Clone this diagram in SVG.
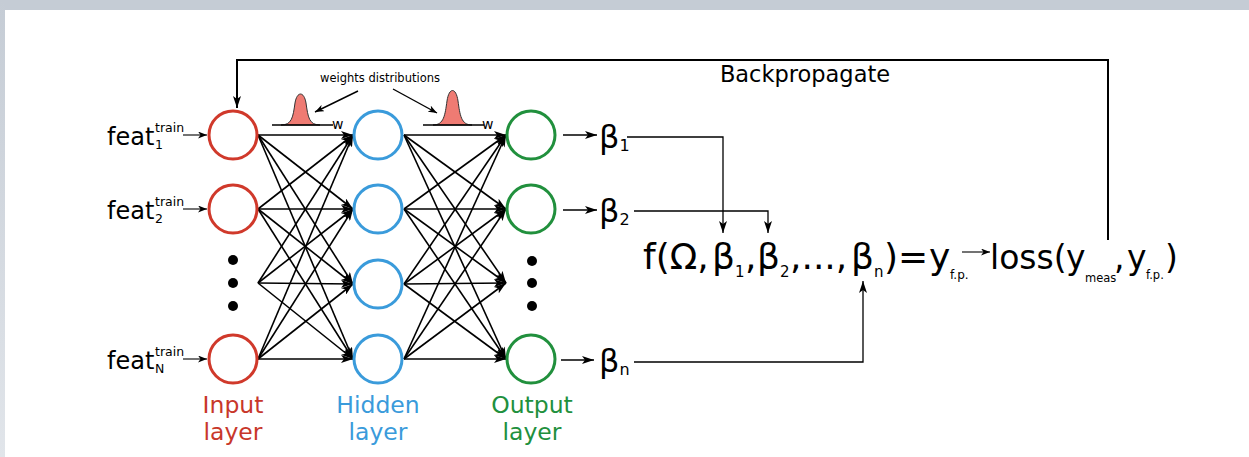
<svg xmlns="http://www.w3.org/2000/svg" width="1249" height="457" viewBox="0 0 1249 457">
<defs>
<linearGradient id="side" x1="0" y1="0" x2="0" y2="1"><stop offset="0" stop-color="#c5ccd5"/><stop offset="1" stop-color="#e1e5ea"/></linearGradient>
<marker id="ah" markerUnits="userSpaceOnUse" markerWidth="13" markerHeight="8" refX="12" refY="4" orient="auto"><path d="M0,0 L12,4 L0,8 L3,4 z" fill="#000"/></marker>
<marker id="ahs" markerUnits="userSpaceOnUse" markerWidth="10" markerHeight="7" refX="9" refY="3.5" orient="auto"><path d="M0,0 L9,3.5 L0,7 L2.5,3.5 z" fill="#000"/></marker>
</defs>
<style>
.t{font-family:"DejaVu Sans",Verdana,sans-serif;fill:#000}
.c{fill:none;stroke-width:3}
.in{stroke:#d0392b}
.hd{stroke:#3a9bdb}
.ou{stroke:#21903d}
.ln{stroke:#000;stroke-width:1.6;fill:none;marker-end:url(#ah)}
.th{stroke:#000;stroke-width:1.1;fill:none;marker-end:url(#ahs)}
.bk{stroke:#000;stroke-width:2;fill:none}
.dot{fill:#000}
.bell{fill:#ef7b73;stroke:#333;stroke-width:1}
</style>
<rect width="1249" height="457" fill="#fff"/>
<rect x="0" y="0" width="1249" height="10" fill="#c5ccd5"/>
<rect x="0" y="0" width="5" height="457" fill="url(#side)"/>

<g id="connectors">
<path class="bk" d="M1108,240 V60 H237 V108" marker-end="url(#ah)"/>
<line class="th" x1="183" y1="135" x2="207" y2="135"/>
<line class="th" x1="183" y1="209" x2="207" y2="209"/>
<line class="th" x1="183" y1="359" x2="207" y2="359"/>
<!-- input to hidden -->
<line class="ln" x1="258" y1="135" x2="353" y2="135"/>
<line class="ln" x1="258" y1="135" x2="353" y2="209"/>
<line class="ln" x1="258" y1="135" x2="353" y2="284"/>
<line class="ln" x1="258" y1="135" x2="353" y2="359"/>
<line class="ln" x1="258" y1="209" x2="353" y2="135"/>
<line class="ln" x1="258" y1="209" x2="353" y2="209"/>
<line class="ln" x1="258" y1="209" x2="353" y2="284"/>
<line class="ln" x1="258" y1="209" x2="353" y2="359"/>
<line class="ln" x1="258" y1="283" x2="353" y2="135"/>
<line class="ln" x1="258" y1="283" x2="353" y2="209"/>
<line class="ln" x1="258" y1="283" x2="353" y2="284"/>
<line class="ln" x1="258" y1="283" x2="353" y2="359"/>
<line class="ln" x1="258" y1="359" x2="353" y2="135"/>
<line class="ln" x1="258" y1="359" x2="353" y2="209"/>
<line class="ln" x1="258" y1="359" x2="353" y2="284"/>
<line class="ln" x1="258" y1="359" x2="353" y2="359"/>
<!-- hidden to output -->
<line class="ln" x1="404" y1="135" x2="506" y2="135"/>
<line class="ln" x1="404" y1="135" x2="506" y2="209"/>
<line class="ln" x1="404" y1="135" x2="506" y2="283"/>
<line class="ln" x1="404" y1="135" x2="506" y2="359"/>
<line class="ln" x1="404" y1="209" x2="506" y2="135"/>
<line class="ln" x1="404" y1="209" x2="506" y2="209"/>
<line class="ln" x1="404" y1="209" x2="506" y2="283"/>
<line class="ln" x1="404" y1="209" x2="506" y2="359"/>
<line class="ln" x1="404" y1="284" x2="506" y2="135"/>
<line class="ln" x1="404" y1="284" x2="506" y2="209"/>
<line class="ln" x1="404" y1="284" x2="506" y2="283"/>
<line class="ln" x1="404" y1="284" x2="506" y2="359"/>
<line class="ln" x1="404" y1="359" x2="506" y2="135"/>
<line class="ln" x1="404" y1="359" x2="506" y2="209"/>
<line class="ln" x1="404" y1="359" x2="506" y2="283"/>
<line class="ln" x1="404" y1="359" x2="506" y2="359"/>
<!-- outputs to beta -->
<line class="ln" x1="563" y1="135" x2="597" y2="135" style="stroke-width:1.3"/>
<line class="ln" x1="563" y1="210" x2="597" y2="210" style="stroke-width:1.3"/>
<line class="ln" x1="561" y1="360" x2="594" y2="360" style="stroke-width:1.3"/>
<!-- beta to equation -->
<path class="ln" d="M627,137 H723 V233" style="stroke-width:1.3"/>
<path class="ln" d="M634,211 H768 V233" style="stroke-width:1.3"/>
<path class="ln" d="M634,362 H863 V281" style="stroke-width:1.3"/>
<line class="th" x1="962" y1="252" x2="990" y2="252"/>
<!-- weights distribution pointers -->
<line class="th" x1="358" y1="91" x2="315" y2="112" style="stroke-width:1.4"/>
<line class="th" x1="393" y1="89" x2="437" y2="113" style="stroke-width:1.4"/>
</g>

<g id="input-layer">
<circle class="c in" cx="233" cy="135" r="24"/>
<circle class="c in" cx="233" cy="209" r="24"/>
<circle class="dot" cx="233" cy="260" r="5"/>
<circle class="dot" cx="233" cy="283" r="5"/>
<circle class="dot" cx="233" cy="306" r="5"/>
<circle class="c in" cx="233" cy="359" r="24"/>
<text class="t" x="233" y="413" font-size="23.5" text-anchor="middle" style="fill:#c8372a">Input</text>
<text class="t" x="233" y="440" font-size="23.5" text-anchor="middle" style="fill:#c8372a">layer</text>
</g>

<g id="hidden-layer">
<circle class="c hd" cx="378" cy="135" r="24"/>
<circle class="c hd" cx="378" cy="209" r="24"/>
<circle class="c hd" cx="378" cy="284" r="24"/>
<circle class="c hd" cx="378" cy="359" r="24"/>
<text class="t" x="378" y="413" font-size="23.5" text-anchor="middle" style="fill:#3a9bdb">Hidden</text>
<text class="t" x="378" y="440" font-size="23.5" text-anchor="middle" style="fill:#3a9bdb">layer</text>
</g>

<g id="output-layer">
<circle class="c ou" cx="531" cy="135" r="24"/>
<circle class="c ou" cx="531" cy="209" r="24"/>
<circle class="dot" cx="532" cy="261" r="5"/>
<circle class="dot" cx="532" cy="283" r="5"/>
<circle class="dot" cx="532" cy="306" r="5"/>
<circle class="c ou" cx="531" cy="359" r="24"/>
<text class="t" x="532" y="413" font-size="23.5" text-anchor="middle" style="fill:#21903d">Output</text>
<text class="t" x="532" y="440" font-size="23.5" text-anchor="middle" style="fill:#21903d">layer</text>
</g>

<g id="features">
<text class="t" x="107" y="145" font-size="24">feat</text>
<text class="t" x="155" y="132" font-size="12.5">train</text>
<text class="t" x="155" y="149" font-size="12.5">1</text>
<text class="t" x="107" y="219" font-size="24">feat</text>
<text class="t" x="155" y="206" font-size="12.5">train</text>
<text class="t" x="155" y="223" font-size="12.5">2</text>
<text class="t" x="107" y="369" font-size="24">feat</text>
<text class="t" x="155" y="356" font-size="12.5">train</text>
<text class="t" x="155" y="373" font-size="12.5">N</text>
</g>

<g id="weights">
<text class="t" x="380" y="82" font-size="11.5" text-anchor="middle">weights distributions</text>
<path class="bell" d="M281,125 C292,125 293,117 295,103 C297,91 304,91 306,103 C308,117 309,125 320,125 Z"/>
<line x1="272" y1="125" x2="333" y2="125" stroke="#000" stroke-width="1.5"/>
<text class="t" x="332" y="129" font-size="14">w</text>
<path class="bell" d="M433,125 C444,125 445,115 447,101 C449,87 456,87 458,101 C460,115 461,125 472,125 Z"/>
<line x1="423" y1="125" x2="484" y2="125" stroke="#000" stroke-width="1.5"/>
<text class="t" x="482" y="129" font-size="14">w</text>
</g>

<g id="betas">
<text class="t" x="599" y="148" font-size="32">β<tspan font-size="16" dy="3">1</tspan></text>
<text class="t" x="599" y="222" font-size="32">β<tspan font-size="16" dy="3">2</tspan></text>
<text class="t" x="599" y="372" font-size="32">β<tspan font-size="16" dy="3">n</tspan></text>
</g>

<g id="equation">
<text class="t" font-size="36" y="269"><tspan x="643">f(Ω,</tspan><tspan x="712">β</tspan><tspan font-size="15" x="735" y="277">1</tspan><tspan x="745" y="269">,</tspan><tspan x="757">β</tspan><tspan font-size="15" x="780" y="277">2</tspan><tspan x="790" y="269">,...,</tspan><tspan x="851">β</tspan><tspan font-size="15" x="874" y="277">n</tspan><tspan x="884" y="269">)=</tspan><tspan x="929">y</tspan><tspan font-size="12" x="950" y="279">f.p.</tspan></text>
<text class="t" font-size="33" y="269"><tspan x="990">loss(</tspan><tspan x="1066">y</tspan><tspan font-size="11.5" x="1085" y="282">meas</tspan><tspan x="1114" y="269">,</tspan><tspan x="1127">y</tspan><tspan font-size="11.5" x="1146" y="279">f.p.</tspan><tspan x="1165" y="269">)</tspan></text>
</g>

<g id="backprop">
<text class="t" x="805" y="82" font-size="22.5" text-anchor="middle">Backpropagate</text>
</g>
</svg>
